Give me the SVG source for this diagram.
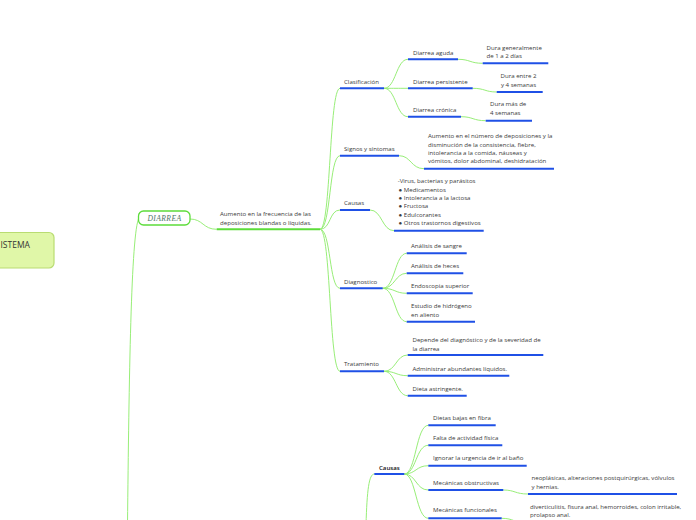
<svg xmlns="http://www.w3.org/2000/svg" width="696" height="520" viewBox="0 0 696 520">
<style>
.t{font-family:"Open Sans","Liberation Sans",sans-serif;font-size:6.1px;fill:#3a3a3a;}
.ul{stroke:#1f50e6;stroke-width:2;fill:none;}
.c{stroke:#98ee78;stroke-width:1;fill:none;}
</style>
<rect width="696" height="520" fill="#fff"/>
<g id="connectors">
<path class="c" d="M127.5,525 C129,380 131,232 139,218"/>
<path class="c" d="M190,219 C203,219 203,229.3 216.7,229.3"/>
<path class="c" d="M320,229.3 C331,229.3 329,88.3 340,88.3"/>
<path class="c" d="M320,229.3 C331,229.3 329,155.7 340,155.7"/>
<path class="c" d="M320,229.3 C331,229.3 329,210 340,210"/>
<path class="c" d="M320,229.3 C331,229.3 329,288.3 340,288.3"/>
<path class="c" d="M320,229.3 C331,229.3 329,371.3 340,371.3"/>
<path class="c" d="M384,88.3 C396,88.3 396,59.3 408,59.3"/>
<path class="c" d="M384,88.3 C396,88.3 396,88.3 408,88.3"/>
<path class="c" d="M384,88.3 C396,88.3 396,116.7 408,116.7"/>
<path class="c" d="M458,59.3 C470,59.3 470,63.3 482.7,63.3"/>
<path class="c" d="M472.7,88.3 C485,88.3 485,92 496.7,92"/>
<path class="c" d="M461,116.7 C473,116.7 473,120.7 485.7,120.7"/>
<path class="c" d="M399,155.7 C411,155.7 411,168.7 424,168.7"/>
<path class="c" d="M370,210 C382,210 382,230.7 394,230.7"/>
<path class="c" d="M382.7,288.3 C395,288.3 395,253.3 406.7,253.3"/>
<path class="c" d="M382.7,288.3 C395,288.3 395,273.3 406.7,273.3"/>
<path class="c" d="M382.7,288.3 C395,288.3 395,293.3 406.7,293.3"/>
<path class="c" d="M382.7,288.3 C395,288.3 395,321.7 406.7,321.7"/>
<path class="c" d="M384,371.3 C396,371.3 396,355 407.7,355"/>
<path class="c" d="M384,371.3 C396,371.3 396,375.7 407.7,375.7"/>
<path class="c" d="M384,371.3 C396,371.3 396,395.7 407.7,395.7"/>
<path class="c" d="M366,525 C367,490 369,474 374.3,474"/>
<path class="c" d="M404.3,474 C416,474 416,425.3 428.3,425.3"/>
<path class="c" d="M404.3,474 C416,474 416,445.3 428.3,445.3"/>
<path class="c" d="M404.3,474 C416,474 416,465.7 428.3,465.7"/>
<path class="c" d="M404.3,474 C416,474 416,490 428.3,490"/>
<path class="c" d="M404.3,474 C416,474 416,518.3 428.3,518.3"/>
<path class="c" d="M503.3,490 C515,490 515,494 528,494"/>
<path class="c" d="M501.7,518.3 C514,518.3 514,523 527,523"/>
</g>
<g id="root">
<rect x="-100" y="232.5" width="154" height="35.5" rx="5" fill="#e0f7a8" stroke="#b9dc72" stroke-width="1.2"/>
<text x="0.5" y="247.5" style="font-family:'Open Sans','Liberation Sans',sans-serif;font-size:8.5px;fill:#333">ISTEMA</text>
</g>
<g id="diarrea">
<rect x="138.5" y="211" width="51.5" height="14" rx="5" fill="#fff" stroke="#5cdc3a" stroke-width="1.3"/>
<text x="164.5" y="221.3" text-anchor="middle" style="font-family:'Liberation Serif',serif;font-style:italic;font-size:7.6px;fill:#4f7468;letter-spacing:0.4px">DIARREA</text>
</g>
<g id="definicion">
<path d="M216.7,229.3 H320" stroke="#5cdc3a" stroke-width="2" fill="none"/>
<text class="t" x="220" y="216.3">Aumento en la frecuencia de las</text>
<text class="t" x="220" y="224.5">deposiciones  blandas o líquidas.</text>
</g>
<g id="clasificacion">
<path class="ul" d="M340,88.3 H384"/>
<text class="t" x="344" y="83.5">Clasificación</text>
</g>
<g id="aguda">
<path class="ul" d="M408,59.3 H458"/>
<text class="t" x="413" y="54.5">Diarrea aguda</text>
</g>
<g id="persistente">
<path class="ul" d="M408,88.3 H472.7"/>
<text class="t" x="413" y="83.5">Diarrea persistente</text>
</g>
<g id="cronica">
<path class="ul" d="M408,116.7 H461"/>
<text class="t" x="413" y="111.5">Diarrea crónica</text>
</g>
<g id="dura1">
<path class="ul" d="M482.7,63.3 H548.3"/>
<text class="t" x="486.5" y="49.5">Dura generalmente</text>
<text class="t" x="486.5" y="57.8">de 1 a 2 días</text>
</g>
<g id="dura2">
<path class="ul" d="M496.7,92 H542.7"/>
<text class="t" x="518.5" y="77.5" text-anchor="middle">Dura entre 2</text>
<text class="t" x="518.5" y="86.5" text-anchor="middle">y 4 semanas</text>
</g>
<g id="dura3">
<path class="ul" d="M485.7,120.7 H532"/>
<text class="t" x="490" y="106.3">Dura más de</text>
<text class="t" x="490" y="115">4 semanas</text>
</g>
<g id="signos">
<path class="ul" d="M340,155.7 H399"/>
<text class="t" x="344" y="151.3">Signos y síntomas</text>
</g>
<g id="signos-detalle">
<path class="ul" d="M424,168.7 H554"/>
<text class="t" x="428" y="138.2">Aumento en el número de deposiciones y la</text>
<text class="t" x="428" y="146.6">disminución de la consistencia, fiebre,</text>
<text class="t" x="428" y="155">intolerancia a la comida, náuseas y</text>
<text class="t" x="428" y="163.4">vómitos, dolor abdominal, deshidratación</text>
</g>
<g id="causas">
<path class="ul" d="M340,210 H370"/>
<text class="t" x="344" y="205.3">Causas</text>
</g>
<g id="causas-lista">
<path class="ul" d="M394,230.7 H483.7"/>
<text class="t" x="397.7" y="183.2">-Virus, bacterias y parásitos</text>
<text class="t" x="398.5" y="191.6">● Medicamentos</text>
<text class="t" x="398.5" y="200">● Intolerancia a la lactosa</text>
<text class="t" x="398.5" y="208.4">● Fructosa</text>
<text class="t" x="398.5" y="216.8">● Edulcorantes</text>
<text class="t" x="398.5" y="225.2">● Otros trastornos digestivos</text>
</g>
<g id="diagnostico">
<path class="ul" d="M340,288.3 H382.7"/>
<text class="t" x="344" y="283.5">Diagnostico</text>
</g>
<g id="sangre">
<path class="ul" d="M406.7,253.3 H466.7"/>
<text class="t" x="411" y="248.3">Análisis de sangre</text>
</g>
<g id="heces">
<path class="ul" d="M406.7,273.3 H463.3"/>
<text class="t" x="411" y="268.3">Análisis de heces</text>
</g>
<g id="endoscopia">
<path class="ul" d="M406.7,293.3 H472.7"/>
<text class="t" x="411" y="288.3">Endoscopia superior</text>
</g>
<g id="hidrogeno">
<path class="ul" d="M406.7,321.7 H475"/>
<text class="t" x="411" y="308">Estudio de hidrógeno</text>
<text class="t" x="411" y="316.6">en aliento</text>
</g>
<g id="tratamiento">
<path class="ul" d="M340,371.3 H384"/>
<text class="t" x="344" y="366.3">Tratamiento</text>
</g>
<g id="depende">
<path class="ul" d="M407.7,355 H543.3"/>
<text class="t" x="412.5" y="342.2">Depende del diagnóstico y de la severidad de</text>
<text class="t" x="412.5" y="350.5">la diarrea</text>
</g>
<g id="liquidos">
<path class="ul" d="M407.7,375.7 H509.3"/>
<text class="t" x="412.5" y="371.3">Administrar abundantes líquidos.</text>
</g>
<g id="dieta">
<path class="ul" d="M407.7,395.7 H466.7"/>
<text class="t" x="412.5" y="390.5">Dieta astringente.</text>
</g>
<g id="causas2">
<path class="ul" d="M374.3,474 H404.3"/>
<text class="t" x="379" y="469.5" style="font-weight:600;fill:#111">Causas</text>
</g>
<g id="fibra">
<path class="ul" d="M428.3,425.3 H495.7"/>
<text class="t" x="433" y="419.6">Dietas bajas en fibra</text>
</g>
<g id="actividad">
<path class="ul" d="M428.3,445.3 H502.3"/>
<text class="t" x="433" y="439.9">Falta de actividad física</text>
</g>
<g id="urgencia">
<path class="ul" d="M428.3,465.7 H526.7"/>
<text class="t" x="433" y="459.9">Ignorar la urgencia de ir al baño</text>
</g>
<g id="obstructivas">
<path class="ul" d="M428.3,490 H503.3"/>
<text class="t" x="433" y="484.5">Mecánicas obstructivas</text>
</g>
<g id="funcionales">
<path class="ul" d="M428.3,518.3 H501.7"/>
<text class="t" x="433" y="512.3">Mecánicas funcionales</text>
</g>
<g id="neoplasicas">
<path class="ul" d="M528,494 H677"/>
<text class="t" x="531.5" y="480.4">neoplásicas, alteraciones postquirúrgicas, vólvulos</text>
<text class="t" x="531.5" y="488.8">y hernias.</text>
</g>
<g id="diverticulitis">
<text class="t" x="530" y="508.7">diverticulitis, fisura anal, hemorroides, colon irritable,</text>
<text class="t" x="530" y="516.6">prolapso anal.</text>
</g>
</svg>
